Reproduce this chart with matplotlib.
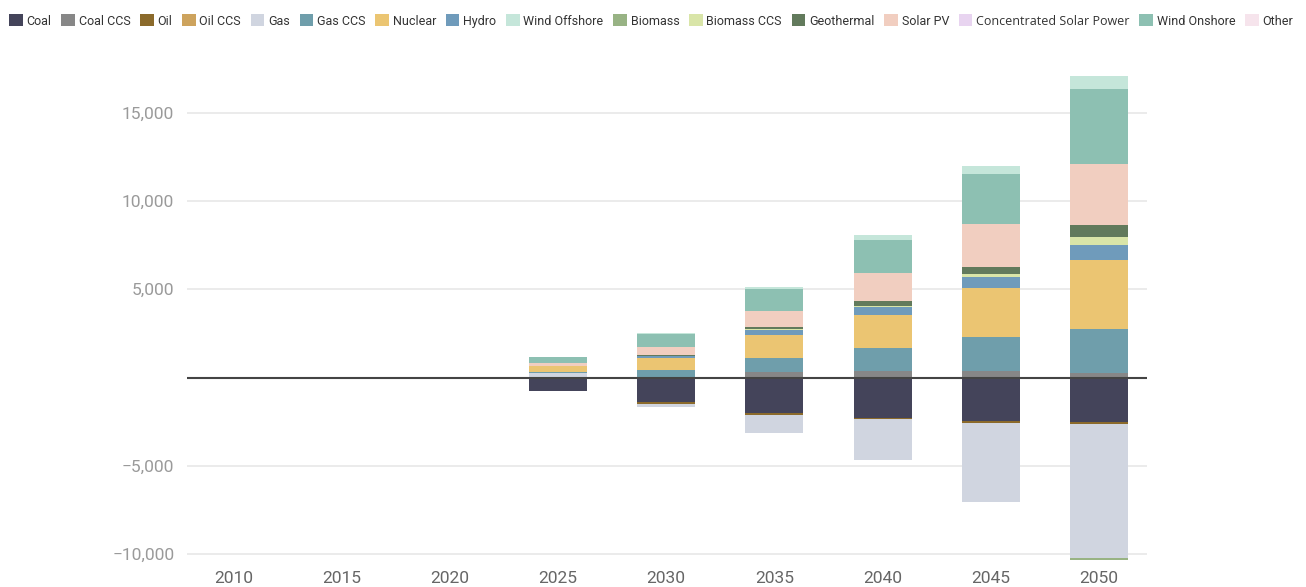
import numpy as np
import matplotlib
matplotlib.use("Agg")
import matplotlib.pyplot as plt
from matplotlib.patches import Patch
from matplotlib.ticker import FuncFormatter

plt.rcParams['font.family'] = ['Roboto', 'DejaVu Sans']

years = ['2010', '2015', '2020', '2025', '2030', '2035', '2040', '2045', '2050']

# change in generation by technology
coal          = [0, 0, 0, -755, -1360, -2020, -2285, -2455, -2512]
coal_ccs      = [0, 0, 0, 0, 57, 320, 378, 378, 250]
oil           = [0, 0, 0, 0, -113, -110, -57, -95, -132]
oil_ccs       = [0, 0, 0, 0, 0, 0, 0, 0, 0]
gas           = [0, 0, 0, 250, -170, -1020, -2323, -4476, -7575]
gas_ccs       = [0, 0, 0, 60, 378, 795, 1285, 1927, 2530]
nuclear       = [0, 0, 0, 320, 661, 1300, 1907, 2757, 3890]
hydro         = [0, 0, 0, 53, 110, 265, 415, 661, 850]
wind_offshore = [0, 0, 0, 0, 57, 130, 283, 453, 755]
biomass       = [0, 0, 0, 0, 0, 0, 0, 0, -95]
biomass_ccs   = [0, 0, 0, 0, 0, 100, 75, 132, 472]
geothermal    = [0, 0, 0, 0, 80, 95, 265, 434, 661]
solar_pv      = [0, 0, 0, 170, 434, 890, 1605, 2400, 3437]
csp           = [0, 0, 0, 0, 0, 0, 0, 0, 0]
wind_onshore  = [0, 0, 0, 300, 755, 1265, 1870, 2852, 4250]
other         = [0, 0, 0, 0, 0, 0, 0, 0, 0]

series = {
    'Coal': (coal, '#44445a'),
    'Coal CCS': (coal_ccs, '#878787'),
    'Oil': (oil, '#8b6a2b'),
    'Oil CCS': (oil_ccs, '#cda35d'),
    'Gas': (gas, '#d0d5e0'),
    'Gas CCS': (gas_ccs, '#6f9eab'),
    'Nuclear': (nuclear, '#ebc572'),
    'Hydro': (hydro, '#6f9bbb'),
    'Wind Offshore': (wind_offshore, '#c5e6da'),
    'Biomass': (biomass, '#98b384'),
    'Biomass CCS': (biomass_ccs, '#d9e5a8'),
    'Geothermal': (geothermal, '#627a5c'),
    'Solar PV': (solar_pv, '#f1cec0'),
    'Concentrated Solar Power': (csp, '#e8d4f0'),
    'Wind Onshore': (wind_onshore, '#8dc0b2'),
    'Other': (other, '#f6e4ec'),
}

legend_order = list(series.keys())
stack_order = ['Coal', 'Coal CCS', 'Oil', 'Oil CCS', 'Gas', 'Gas CCS', 'Nuclear',
               'Hydro', 'Biomass', 'Biomass CCS', 'Geothermal', 'Solar PV',
               'Concentrated Solar Power', 'Wind Onshore', 'Wind Offshore', 'Other']

fig = plt.figure(figsize=(13.06, 5.87), dpi=100)
ax = fig.add_axes([0.143, 0.041, 0.735, 0.842])

x = np.arange(len(years))
pos_base = np.zeros(len(years))
neg_base = np.zeros(len(years))
for name in stack_order:
    vals, color = series[name]
    v = np.array(vals, dtype=float)
    pos = np.where(v > 0, v, 0)
    neg = np.where(v < 0, v, 0)
    ax.bar(x, pos, bottom=pos_base, width=0.536, color=color, linewidth=0, zorder=3)
    ax.bar(x, neg, bottom=neg_base, width=0.536, color=color, linewidth=0, zorder=3)
    pos_base += pos
    neg_base += neg

ax.axhline(0, color='#444444', linewidth=1.5, zorder=4)

ax.set_xlim(-0.43, 8.44)
ax.set_ylim(-10500, 17500)
ax.set_xticks(x)
ax.set_xticklabels(years)
ax.set_yticks([-10000, -5000, 5000, 10000, 15000])
ax.yaxis.set_major_formatter(FuncFormatter(lambda v, p: f"{int(v):,}".replace('-', '\u2212')))
ax.tick_params(axis='y', length=0, pad=9, labelsize=12.5, labelcolor='#9a9a9a')
ax.tick_params(axis='x', length=0, pad=6, labelsize=12.5, labelcolor='#666666')
ax.grid(axis='y', color='#e8e8e8', linewidth=1.2, zorder=0)
for s in ax.spines.values():
    s.set_visible(False)

handles = [Patch(facecolor=series[n][1], edgecolor='none') for n in legend_order]
leg = fig.legend(handles, legend_order, loc='upper left', bbox_to_anchor=(0.004, 0.982),
                 ncol=len(legend_order), frameon=False, fontsize=9,
                 handlelength=1.1, handleheight=1.1, handletextpad=0.3,
                 columnspacing=0.77, borderaxespad=0, borderpad=0.3)
for t in leg.get_texts():
    t.set_color('#333333')
    if t.get_text() == 'Concentrated Solar Power':
        t.set_fontfamily(['Open Sans', 'DejaVu Sans'])

fig.savefig('out.png', dpi=100)
